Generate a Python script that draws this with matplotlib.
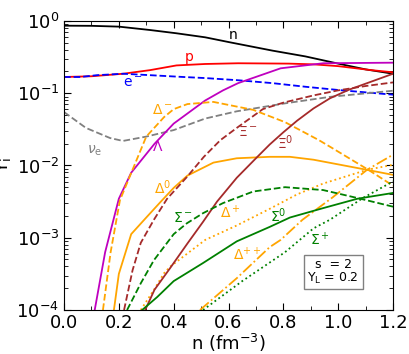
import numpy as np
import matplotlib
matplotlib.use("Agg")
from matplotlib import pyplot as plt
from matplotlib.ticker import MultipleLocator

# particle fractions (values stored as log10 Y_i)
n_neut = [0.0, 0.1, 0.2, 0.314, 0.41, 0.515, 0.605, 0.76, 0.88, 1.0, 1.1, 1.2]
lg_neut = [-0.065, -0.067, -0.078, -0.125, -0.17, -0.226, -0.295, -0.41, -0.49, -0.59, -0.67, -0.73]

n_p = [0.0, 0.1, 0.216, 0.314, 0.41, 0.515, 0.635, 0.82, 0.91, 1.0, 1.12, 1.2]
lg_p = [-0.775, -0.765, -0.73, -0.68, -0.615, -0.595, -0.585, -0.59, -0.60, -0.625, -0.68, -0.71]

n_e = [0.0, 0.06, 0.12, 0.216, 0.314, 0.435, 0.515, 0.635, 0.76, 0.88, 1.0, 1.2]
lg_e = [-0.775, -0.775, -0.75, -0.73, -0.75, -0.775, -0.79, -0.82, -0.86, -0.91, -0.955, -1.02]

n_nu = [0.0, 0.08, 0.168, 0.215, 0.30, 0.40, 0.515, 0.63, 0.726, 0.806, 0.97, 1.2]
lg_nu = [-1.26, -1.48, -1.62, -1.66, -1.60, -1.51, -1.35, -1.25, -1.19, -1.14, -1.05, -0.965]

n_lam = [0.112, 0.15, 0.20, 0.245, 0.33, 0.40, 0.515, 0.58, 0.635, 0.79, 0.945, 1.2]
lg_lam = [-4.0, -3.2, -2.46, -2.10, -1.70, -1.42, -1.10, -0.96, -0.86, -0.655, -0.585, -0.577]

n_dm = [0.142, 0.17, 0.204, 0.30, 0.365, 0.40, 0.45, 0.545, 0.69, 0.806, 0.93, 0.97, 1.11, 1.2]
lg_dm = [-4.0, -3.2, -2.48, -1.6, -1.33, -1.22, -1.15, -1.12, -1.23, -1.40, -1.65, -1.74, -2.06, -2.28]

n_d0 = [0.182, 0.20, 0.245, 0.30, 0.358, 0.40, 0.45, 0.545, 0.63, 0.75, 0.824, 0.91, 1.105, 1.2]
lg_d0 = [-4.0, -3.5, -2.95, -2.72, -2.48, -2.31, -2.14, -1.96, -1.90, -1.88, -1.88, -1.92, -2.06, -2.13]

n_dp = [0.28, 0.328, 0.365, 0.387, 0.515, 0.63, 0.75, 0.85, 0.945, 1.105, 1.2]
lg_dp = [-4.0, -3.72, -3.49, -3.40, -3.03, -2.83, -2.60, -2.40, -2.25, -2.06, -1.99]

n_dpp = [0.496, 0.63, 0.75, 0.79, 0.87, 0.98, 1.105, 1.2]
lg_dpp = [-4.0, -3.56, -3.13, -3.03, -2.75, -2.44, -2.06, -1.85]

n_xm = [0.219, 0.25, 0.28, 0.328, 0.376, 0.448, 0.51, 0.57, 0.63, 0.725, 0.80, 0.91, 1.0, 1.1, 1.2]
lg_xm = [-4.0, -3.45, -3.07, -2.75, -2.46, -2.16, -1.88, -1.65, -1.48, -1.22, -1.13, -1.03, -0.96, -0.90, -0.85]

n_x0 = [0.296, 0.33, 0.387, 0.45, 0.507, 0.558, 0.63, 0.70, 0.75, 0.80, 0.85, 0.91, 0.97, 1.04, 1.12, 1.2]
lg_x0 = [-4.0, -3.72, -3.42, -3.08, -2.78, -2.50, -2.17, -1.90, -1.71, -1.54, -1.38, -1.21, -1.07, -0.95, -0.84, -0.73]

n_sm = [0.23, 0.28, 0.328, 0.40, 0.448, 0.507, 0.58, 0.69, 0.806, 0.945, 1.07, 1.2]
lg_sm = [-4.0, -3.63, -3.31, -2.95, -2.80, -2.66, -2.52, -2.36, -2.30, -2.34, -2.45, -2.57]

n_s0 = [0.285, 0.34, 0.40, 0.507, 0.63, 0.75, 0.824, 0.945, 1.07, 1.2]
lg_s0 = [-4.0, -3.82, -3.60, -3.35, -3.05, -2.85, -2.72, -2.59, -2.46, -2.38]

n_sp = [0.507, 0.65, 0.806, 0.91, 0.97, 1.09, 1.2]
lg_sp = [-4.0, -3.6, -3.2, -2.87, -2.75, -2.45, -2.22]

orange = "#ffa500"
brown = "#a52a2a"
green = "#008000"

curves = [
    (n_neut, lg_neut, "k", "-"),
    (n_p, lg_p, "r", "-"),
    (n_e, lg_e, "b", "--"),
    (n_nu, lg_nu, "gray", "--"),
    (n_lam, lg_lam, "m", "-"),
    (n_dm, lg_dm, orange, "--"),
    (n_d0, lg_d0, orange, "-"),
    (n_dp, lg_dp, orange, ":"),
    (n_dpp, lg_dpp, orange, "-."),
    (n_xm, lg_xm, brown, "--"),
    (n_x0, lg_x0, brown, "-"),
    (n_sm, lg_sm, green, "--"),
    (n_s0, lg_s0, green, "-"),
    (n_sp, lg_sp, green, ":"),
]

fig = plt.figure(figsize=(4.09, 3.54), dpi=100)
ax = fig.add_axes([0.1565, 0.1243, 0.8045, 0.8164])
for x, lg, c, ls in curves:
    ax.plot(x, 10.0 ** np.array(lg), color=c, ls=ls, lw=1.3)

ax.set_yscale("log")
ax.set_xlim(0, 1.2)
ax.set_ylim(1e-4, 1)
ax.xaxis.set_major_locator(MultipleLocator(0.2))
ax.xaxis.set_minor_locator(MultipleLocator(0.1))
ax.tick_params(which="both", direction="in", top=True, right=True, labelsize=13)
ax.tick_params(which="major", length=5)
ax.tick_params(which="minor", length=3)
ax.tick_params(axis="x", pad=3)
ax.set_xlabel("n (fm$^{-3}$)", fontsize=13, labelpad=0)
ax.set_ylabel("Y$_\\mathrm{i}$", fontsize=13, labelpad=2)

lab = [
    (0.617, 0.64, "n", "k"),
    (0.457, 0.32, "p", "r"),
    (0.25, 0.14, "e$^-$", "b"),
    (0.113, 0.016, "$\\nu_\\mathrm{e}$", "gray"),
    (0.34, 0.018, "$\\Lambda$", "m"),
    (0.36, 0.059, "$\\Delta^-$", orange),
    (0.36, 0.005, "$\\Delta^0$", orange),
    (0.605, 0.0022, "$\\Delta^+$", orange),
    (0.668, 0.00058, "$\\Delta^{++}$", orange),
    (0.67, 0.029, "$\\Xi^-$", brown),
    (0.806, 0.021, "$\\Xi^0$", brown),
    (0.435, 0.0019, "$\\Sigma^-$", green),
    (0.78, 0.002, "$\\Sigma^0$", green),
    (0.935, 0.00093, "$\\Sigma^+$", green),
]
for x, y, t, c in lab:
    ax.text(x, y, t, color=c, fontsize=10, ha="center", va="center")

ax.text(0.818, 0.133, "s  = 2\nY$_\\mathrm{L}$ = 0.2", transform=ax.transAxes,
        fontsize=9, ha="center", va="center", linespacing=1.0,
        bbox=dict(boxstyle="square,pad=0.3", fc="white", ec="gray"))

plt.savefig("out.png", dpi=100)
